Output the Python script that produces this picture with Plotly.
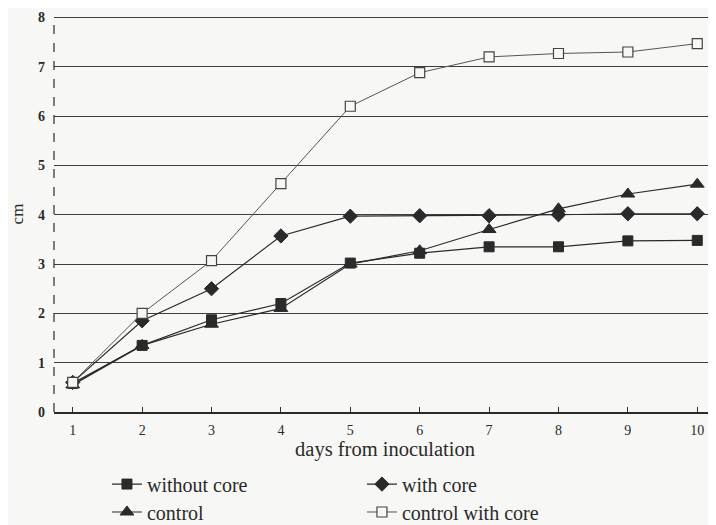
import plotly.graph_objects as go

days = [1, 2, 3, 4, 5, 6, 7, 8, 9, 10]
without_core = [0.58, 1.35, 1.87, 2.20, 3.02, 3.22, 3.35, 3.35, 3.47, 3.48]
with_core = [0.60, 1.85, 2.50, 3.57, 3.97, 3.98, 3.98, 4.00, 4.02, 4.02]
control = [0.55, 1.35, 1.78, 2.10, 3.00, 3.27, 3.70, 4.12, 4.42, 4.62]
control_with_core = [0.60, 2.00, 3.07, 4.63, 6.20, 6.88, 7.20, 7.27, 7.30, 7.47]
y_ticks = [0, 1, 2, 3, 4, 5, 6, 7, 8]

FONT = "Liberation Serif"
INK = "#2a2a2a"
BG = "#f7f7f5"

fig = go.Figure()

fig.add_trace(go.Scatter(
    x=days, y=without_core, name="without core", mode="lines+markers", legend="legend",
    line=dict(color=INK, width=1.2),
    marker=dict(symbol="square", size=10, color=INK, line=dict(color=INK, width=1)),
))
fig.add_trace(go.Scatter(
    x=days, y=with_core, name="with core", mode="lines+markers", legend="legend",
    line=dict(color=INK, width=1.2),
    marker=dict(symbol="diamond", size=11, color=INK, line=dict(color=INK, width=1)),
))
fig.add_trace(go.Scatter(
    x=days, y=control, name="control", mode="lines+markers", legend="legend2",
    line=dict(color=INK, width=1.2),
    marker=dict(symbol="triangle-up", size=12, color=INK, line=dict(color=INK, width=1)),
))
fig.add_trace(go.Scatter(
    x=days, y=control_with_core, name="control with core", mode="lines+markers", legend="legend2",
    line=dict(color="#555555", width=1),
    marker=dict(symbol="square", size=10, color=BG, line=dict(color="#444444", width=1.2)),
))

legend_common = dict(
    orientation="h", x=0.080, xanchor="left", yanchor="middle",
    entrywidth=210, entrywidthmode="pixels", itemwidth=30,
    font=dict(family=FONT, size=20, color=INK), bgcolor="rgba(0,0,0,0)",
    traceorder="normal",
)

# the page body has an 8px default margin, so the figure is sized to fit the window
fig.update_layout(
    width=708, height=517,
    margin=dict(l=46, r=0, t=8, b=113, autoexpand=False),
    paper_bgcolor=BG, plot_bgcolor=BG,
    font=dict(family=FONT, color=INK, size=13),
    showlegend=True,
    legend=dict(legend_common, y=-0.182),
    legend2=dict(legend_common, y=-0.2525),
    xaxis=dict(
        range=[0.73, 10.27], tickvals=days, ticks="inside", ticklen=5,
        tickcolor=INK, showgrid=False, zeroline=False, automargin=False,
        showline=True, linecolor=INK, linewidth=1.5,
        tickfont=dict(family=FONT, size=14, color=INK),
        ticklabelstandoff=4,
        title=dict(text="days from inoculation", font=dict(family=FONT, size=20.5, color=INK), standoff=0),
    ),
    yaxis=dict(
        range=[0, 8.03], tickvals=y_ticks, ticks="", showgrid=True, automargin=False,
        gridcolor="#3d3d3d", gridwidth=1.4, zeroline=False, showline=False,
        tickfont=dict(family=FONT, size=14, color=INK, weight="bold"),
        ticklabelstandoff=8,
        title=dict(text="cm", font=dict(family=FONT, size=17, color=INK), standoff=12),
    ),
)

fig.add_shape(type="line", xref="paper", yref="paper", x0=0, x1=0, y0=0, y1=1,
              line=dict(color=INK, width=1.2, dash="dash"))

fig.write_html("out.html")
